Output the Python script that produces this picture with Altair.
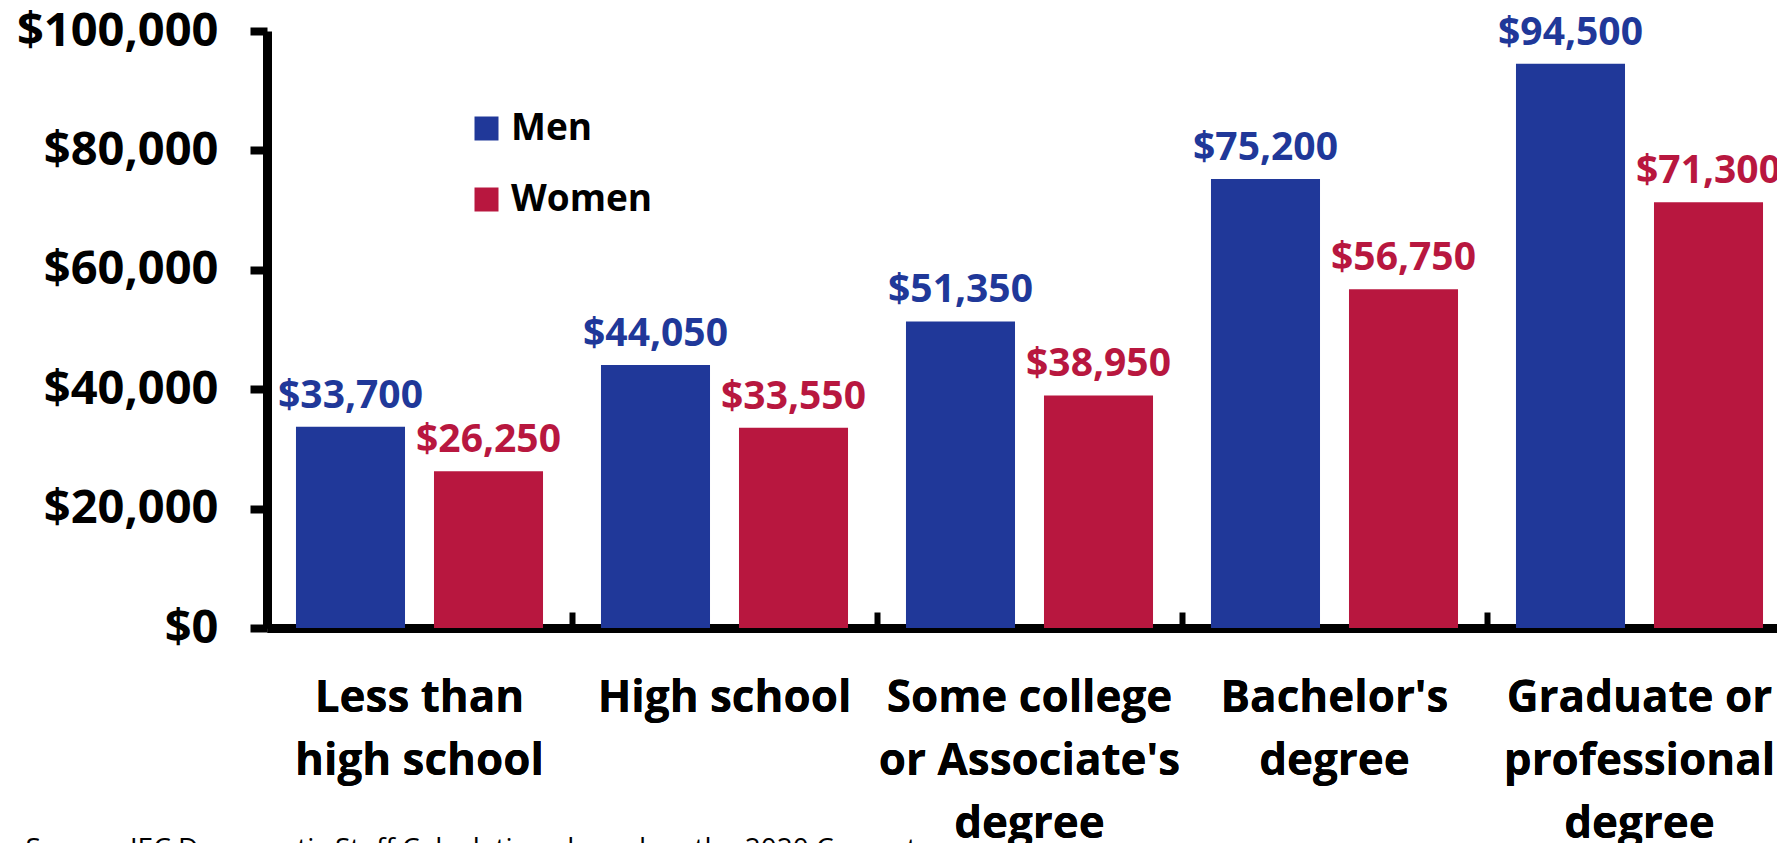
import altair as alt
import pandas as pd

categories = [
    "Less than\nhigh school",
    "High school",
    "Some college\nor Associate's\ndegree",
    "Bachelor's\ndegree",
    "Graduate or\nprofessional\ndegree",
]
genders = ["Men", "Women"]
men = [33700, 44050, 51350, 75200, 94500]
women = [26250, 33550, 38950, 56750, 71300]
y_ticks = [0, 20000, 40000, 60000, 80000, 100000]
source_note = "Source: JEC Democratic Staff Calculations based on the 2020 Current"

BLUE = "#203899"
RED = "#b8173f"
FONT = "Open Sans"

rows = []
for c, m, w in zip(categories, men, women):
    rows.append({"category": c, "gender": "Men", "value": m})
    rows.append({"category": c, "gender": "Women", "value": w})
df = pd.DataFrame(rows)

PLOT_W = 1510
PLOT_H = 597

x_scale = alt.Scale(paddingInner=0, paddingOuter=0, range=[0, 1525])
xo_scale = alt.Scale(paddingInner=0.21, paddingOuter=0.21)
y_scale = alt.Scale(domain=[0, 100000])
color_scale = alt.Scale(domain=genders, range=[BLUE, RED])

x_axis = alt.Axis(
    orient="bottom", title=None, ticks=False, domainWidth=9, domainColor="black",
    labelFont=FONT, labelFontSize=44, labelFontWeight="bold", labelColor="black",
    labelAngle=0, labelPadding=48, labelLineHeight=63, labelLimit=0,
    labelBaseline="top", labelExpr="split(datum.label, '\\n')", grid=False,
)
y_axis = alt.Axis(
    values=y_ticks, format="$,.0f", title=None, grid=False,
    domainWidth=9, domainColor="black", tickWidth=8, tickSize=17, tickColor="black",
    labelFont=FONT, labelFontSize=47, labelFontWeight="bold", labelColor="black",
    labelPadding=32, labelLimit=0,
)

base = alt.Chart(df).encode(
    x=alt.X("category:N", sort=categories, scale=x_scale, axis=x_axis),
    xOffset=alt.XOffset("gender:N", sort=genders, scale=xo_scale),
    y=alt.Y("value:Q", scale=y_scale, axis=y_axis),
    color=alt.Color(
        "gender:N", scale=color_scale,
        legend=alt.Legend(
            orient="none", legendX=201, legendY=79, title=None,
            symbolType="square", symbolSize=576, symbolStrokeWidth=0,
            labelFont=FONT, labelFontSize=37, labelFontWeight="bold",
            labelColor="black", labelOffset=6, rowPadding=33, padding=0,
        ),
    ),
)

bars = base.mark_bar()
labels = base.mark_text(
    dy=-19, fontSize=39, fontWeight="bold", font=FONT, baseline="alphabetic", align="center"
).encode(text=alt.Text("value:Q", format="$,.0f"))

tick_layer = alt.Chart(df).mark_bar(opacity=0).encode(
    x=alt.X(
        "category:N", sort=categories, scale=x_scale,
        axis=alt.Axis(
            orient="top", offset=-PLOT_H, tickBand="extent", labels=False,
            domain=False, ticks=True, tickSize=16, tickWidth=6, tickColor="black",
            title=None, grid=False,
        ),
    ),
    y=alt.Y("value:Q", scale=y_scale, axis=y_axis),
)

chart = (
    alt.layer(bars, labels, tick_layer)
    .resolve_axis(x="independent")
    .properties(
        width=PLOT_W,
        height=PLOT_H,
        autosize=alt.AutoSizeParams(type="none"),
        padding={"left": 259, "top": 23, "right": 0, "bottom": 215},
        title=alt.TitleParams(
            text=source_note, orient="bottom", anchor="start", frame="bounds",
            font=FONT, fontSize=28, fontWeight="normal", color="black",
            offset=-10, dx=9,
        ),
    )
    .configure_view(stroke=None)
)

chart.save("out.html", embed_options={"renderer": "svg", "actions": False})
